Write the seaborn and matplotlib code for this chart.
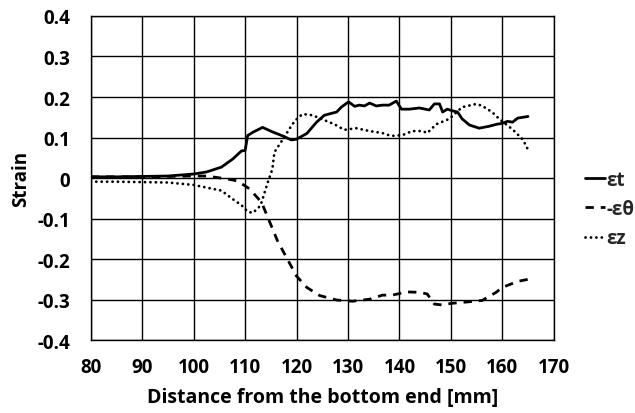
import numpy as np
import pandas as pd
import matplotlib
matplotlib.use("Agg")
import matplotlib.pyplot as plt
import seaborn as sns

# values
et_x = [80, 85, 90, 95, 100, 102.5, 105.4, 107.6, 109.3, 110, 110.5, 111.5, 113.4, 115.3,
        117.3, 119, 120, 122, 123.9, 125.4, 127.8, 128.7, 130.1, 131.3, 132.2, 133.2,
        134.2, 135.5, 136.7, 138, 139.4, 140.4, 141.9, 143.9, 145.8, 146.8, 147.8, 148.4,
        149.3, 150.3, 151.3, 152.2, 153.6, 155.5, 157.5, 159, 160, 161, 162, 163, 164, 165]
et_y = [0.003, 0.003, 0.004, 0.005, 0.01, 0.015, 0.027, 0.047, 0.067, 0.068, 0.105, 0.113,
        0.125, 0.114, 0.104, 0.094, 0.096, 0.11, 0.138, 0.155, 0.163, 0.175, 0.188, 0.177,
        0.18, 0.178, 0.185, 0.178, 0.18, 0.18, 0.19, 0.17, 0.17, 0.173, 0.168, 0.183, 0.183,
        0.163, 0.17, 0.166, 0.163, 0.146, 0.131, 0.123, 0.128, 0.133, 0.135, 0.14, 0.138,
        0.148, 0.15, 0.152]

eth_x = [80, 85, 90, 95, 100, 102.5, 106.4, 108.5, 110.9, 113.2, 114.8, 116.3, 118, 120,
         122, 124.5, 127.8, 130.9, 134.2, 136.7, 138.6, 141.4, 143.9, 145.4, 146.8, 148.2,
         150.3, 153, 156.1, 158.8, 160, 161, 162, 163, 165]
eth_y = [0.003, 0.003, 0.003, 0.004, 0.005, 0.005, -0.002, -0.007, -0.027, -0.06, -0.109,
         -0.155, -0.195, -0.242, -0.27, -0.29, -0.301, -0.304, -0.299, -0.289, -0.289,
         -0.281, -0.282, -0.286, -0.311, -0.313, -0.309, -0.306, -0.302, -0.282, -0.27,
         -0.265, -0.26, -0.255, -0.25]

ez_x = [80, 85, 90, 95, 100, 105.4, 107.6, 109.3, 110.5, 111.5, 113, 114.5, 115.3, 115.7,
        117, 119.2, 120.2, 121.2, 123.1, 125.4, 127.3, 129.3, 131.6, 134.2, 136.7, 138.4,
        140.6, 142.5, 144.5, 145.4, 147.2, 149.7, 152.2, 155, 156.1, 158, 159.4, 162,
        164, 165]
ez_y = [-0.009, -0.009, -0.01, -0.011, -0.017, -0.031, -0.052, -0.067, -0.083, -0.086,
        -0.068, -0.007, 0.022, 0.064, 0.089, 0.133, 0.148, 0.158, 0.155, 0.143, 0.133,
        0.119, 0.123, 0.116, 0.111, 0.104, 0.106, 0.116, 0.116, 0.111, 0.133, 0.146,
        0.175, 0.183, 0.178, 0.163, 0.146, 0.12, 0.095, 0.07]

sns.set_theme(style="whitegrid")
plt.rcParams["font.family"] = ["Open Sans", "DejaVu Sans"]
plt.rcParams["font.weight"] = "bold"
FS = 13.5

fig = plt.figure(figsize=(6.35, 4.14), dpi=100)
ax = fig.add_axes([0.143, 0.176, 0.729, 0.783])

sns.lineplot(x=et_x, y=et_y, ax=ax, color="black", lw=2.0, label="εt")
sns.lineplot(x=eth_x, y=eth_y, ax=ax, color="black", lw=2.0, label="-εθ",
             linestyle=(0, (3, 2.5)))
sns.lineplot(x=ez_x, y=ez_y, ax=ax, color="black", lw=2.0, label="εz",
             linestyle=(0, (0.05, 1.9)))
ax.lines[2].set_dash_capstyle("round")

ax.set_xlim(80, 170)
ax.set_ylim(-0.4, 0.4)
ax.set_xticks(np.arange(80, 171, 10))
ax.set_yticks(np.round(np.arange(-0.4, 0.41, 0.1), 1))
ax.set_yticklabels(["-0.4", "-0.3", "-0.2", "-0.1", "0", "0.1", "0.2", "0.3", "0.4"])
ax.grid(True, color="black", lw=1.0)
ax.set_facecolor("white")
for s in ax.spines.values():
    s.set_color("black")
    s.set_linewidth(1.0)
ax.tick_params(axis="x", labelsize=FS, colors="black", pad=12, length=0)
ax.tick_params(axis="y", labelsize=FS, colors="black", pad=15, length=0)
for lab in ax.get_xticklabels() + ax.get_yticklabels():
    lab.set_fontweight("bold")

ax.set_xlabel("Distance from the bottom end [mm]", fontsize=14, fontweight="bold",
              color="black")
ax.set_ylabel("Strain", fontsize=FS, fontweight="bold", color="black")
ax.xaxis.set_label_coords(0.5, -0.145)
ax.yaxis.set_label_coords(-0.13, 0.5)

leg = fig.legend(loc="center left", bbox_to_anchor=(0.922, 0.493), frameon=False,
                 handlelength=1.05, handletextpad=0.05, labelspacing=0.5, fontsize=FS,
                 borderaxespad=0, borderpad=0)
ax.get_legend().remove()
for t in leg.get_texts():
    t.set_fontweight("bold")
leg.get_lines()[2].set_dash_capstyle("round")

fig.savefig("out.png", dpi=100, facecolor="white")
